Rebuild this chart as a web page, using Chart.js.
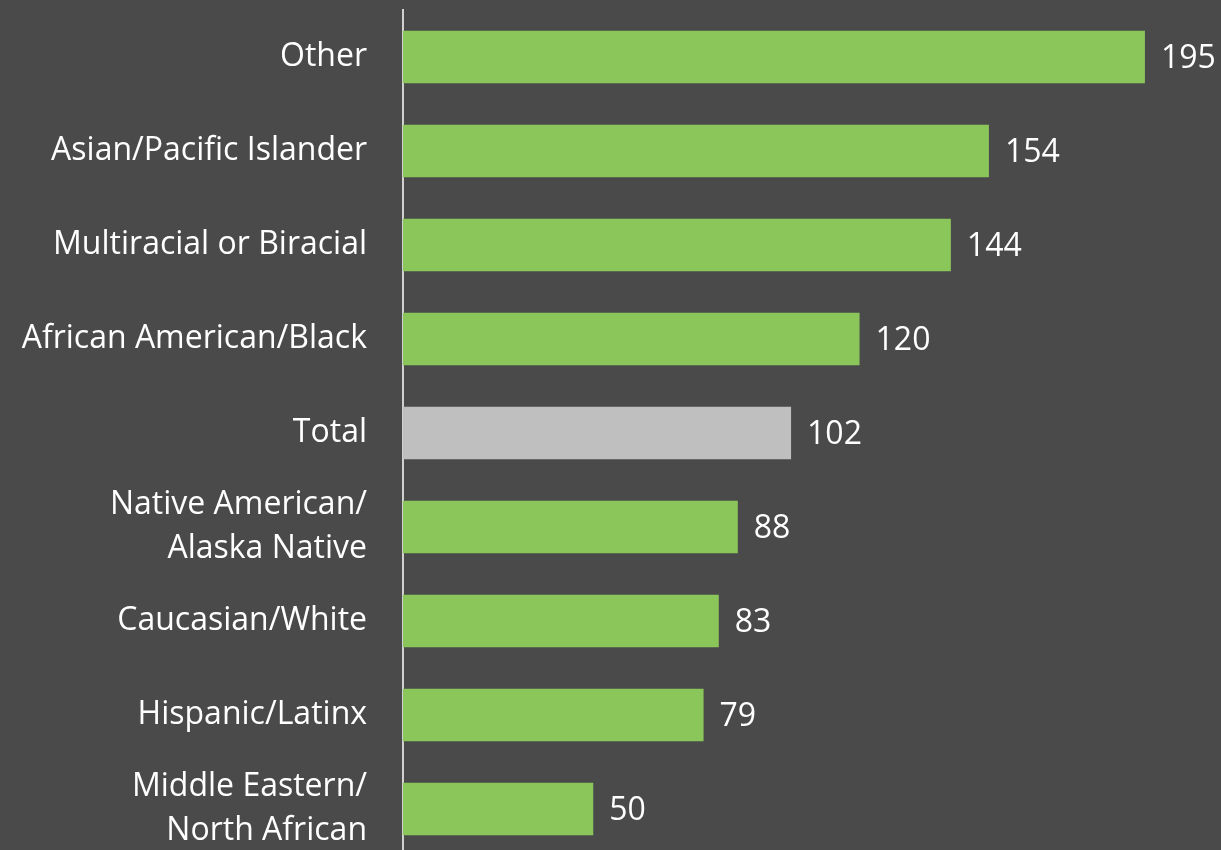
<!DOCTYPE html>
<html>
<head>
<meta charset="utf-8">
<script src="https://cdn.jsdelivr.net/npm/chart.js@4.4.0/dist/chart.umd.min.js"></script>
<style>
  html, body { margin: 0; padding: 0; background: #4a4a4a; overflow: hidden; }
  #wrap { width: 1221px; height: 856px; position: relative; }
</style>
</head>
<body>
<div id="wrap"><canvas id="chart"></canvas></div>
<script>
// Kategoriler ve değerler
const categories = [
    'Other',
    'Asian/Pacific Islander',
    'Multiracial or Biracial',
    'African American/Black',
    'Total',
    ['Native American/', 'Alaska Native'],
    'Caucasian/White',
    'Hispanic/Latinx',
    ['Middle Eastern/', 'North African']
];
const values = [195, 154, 144, 120, 102, 88, 83, 79, 50];

const GREEN = '#8bc65a';
const GREY = '#bfbfbf';
const FONT = '"Open Sans", "Noto Sans", sans-serif';
const barColors = categories.map(c => c === 'Total' ? GREY : GREEN);

// Bar sonuna değer yaz
const valueLabels = {
    id: 'valueLabels',
    afterDatasetsDraw(chart) {
        const ctx = chart.ctx;
        const meta = chart.getDatasetMeta(0);
        ctx.save();
        ctx.fillStyle = '#ffffff';
        ctx.font = '32px ' + FONT;
        ctx.textAlign = 'left';
        ctx.textBaseline = 'middle';
        meta.data.forEach((bar, i) => {
            ctx.fillText(String(values[i]), bar.x + 16, bar.y + 2);
        });
        ctx.restore();
    }
};

new Chart(document.getElementById('chart'), {
    type: 'bar',
    data: {
        labels: categories,
        datasets: [{
            data: values,
            backgroundColor: barColors,
            borderWidth: 0,
            categoryPercentage: 1,
            barPercentage: 0.56
        }]
    },
    options: {
        indexAxis: 'y',
        responsive: true,
        maintainAspectRatio: false,
        animation: false,
        layout: { padding: { top: 10, right: 0, bottom: 0, left: 0 } },
        plugins: {
            legend: { display: false },
            tooltip: { enabled: false }
        },
        scales: {
            x: {
                display: false,
                min: 0,
                max: 215
            },
            y: {
                grid: { display: false },
                border: { display: true, color: '#d0d0d0', width: 2 },
                ticks: {
                    color: '#ffffff',
                    padding: 28,
                    font: { family: FONT, size: 32, lineHeight: 1.38 }
                },
                afterFit(axis) {
                    axis.width = 403;
                    // çok satırlı etiketler için ekstra boşluk istemiyoruz
                    axis.paddingTop = 0;
                    axis.paddingBottom = 0;
                }
            }
        }
    },
    plugins: [valueLabels]
});
</script>
</body>
</html>
